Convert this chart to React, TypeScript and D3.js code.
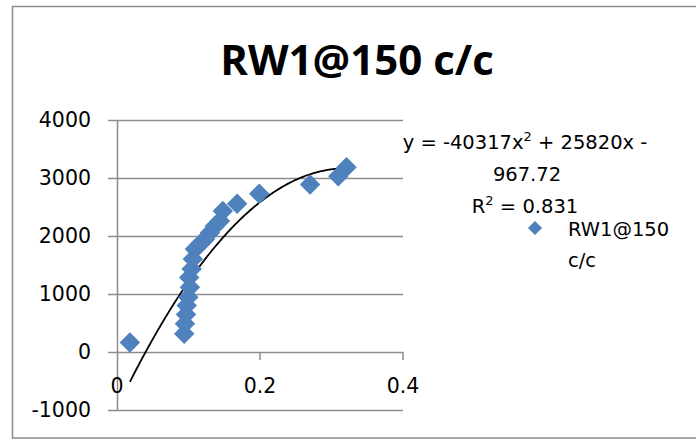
import React, { useRef, useEffect } from "react";
import * as d3 from "d3";

// Data
const xValues = [
  0.018, 0.094, 0.095, 0.0965, 0.0975, 0.0997, 0.101, 0.102, 0.1045, 0.106,
  0.109, 0.116, 0.123, 0.13, 0.137, 0.144, 0.148, 0.168, 0.199, 0.27, 0.3095,
  0.321,
];
const yValues = [
  165, 315, 487, 646, 800, 943, 1286, 1115, 1430, 1602, 1774, 1859, 1945, 2058,
  2173, 2259, 2430, 2556, 2727, 2888, 3031, 3185,
];
const xTicks = [0, 0.2, 0.4];
const yTicks = [-1000, 0, 1000, 2000, 3000, 4000];
// trendline coefficients as shown in the chart label
const trendCoef = [-40317, 25820, -967.72];
const title = "RW1@150 c/c";
const seriesName = "RW1@150";
const seriesName2 = "c/c";

const TITLE_FONT = "'Open Sans', 'Liberation Sans', sans-serif";
const FONT = "'DejaVu Sans', 'Open Sans', sans-serif";

const App: React.FC = () => {
  const chartRef = useRef<SVGSVGElement>(null);

  useEffect(() => {
    if (!chartRef.current) return;
    const svg = d3.select(chartRef.current);
    svg.selectAll("*").remove();

    const x = d3.scaleLinear().domain([0, 0.4]).range([117, 403]);
    const y = d3.scaleLinear().domain([-1000, 4000]).range([410, 120]);

    // chart border
    svg
      .append("rect")
      .attr("x", 12.5)
      .attr("y", 6.5)
      .attr("width", 700)
      .attr("height", 431.5)
      .attr("fill", "white")
      .attr("stroke", "#8c8c8c")
      .attr("stroke-width", 1.5);

    // title
    svg
      .append("text")
      .attr("x", 357)
      .attr("y", 75)
      .attr("text-anchor", "middle")
      .attr("font-family", TITLE_FONT)
      .attr("font-weight", "bold")
      .attr("font-size", 42)
      .text(title);

    // horizontal gridlines (extend past the axis as ticks)
    svg
      .append("g")
      .selectAll("line")
      .data(yTicks)
      .enter()
      .append("line")
      .attr("x1", 108)
      .attr("x2", x(0.4))
      .attr("y1", (d) => Math.round(y(d)) + 0.5)
      .attr("y2", (d) => Math.round(y(d)) + 0.5)
      .attr("stroke", "#8c8c8c")
      .attr("stroke-width", 1.5);

    // vertical axis line
    svg
      .append("line")
      .attr("x1", x(0) + 0.5)
      .attr("x2", x(0) + 0.5)
      .attr("y1", y(4000))
      .attr("y2", y(-1000))
      .attr("stroke", "#8c8c8c")
      .attr("stroke-width", 1.5);

    // x tick marks at y=0
    svg
      .append("g")
      .selectAll("line")
      .data(xTicks.filter((d) => d > 0))
      .enter()
      .append("line")
      .attr("x1", (d) => x(d))
      .attr("x2", (d) => x(d))
      .attr("y1", y(0))
      .attr("y2", y(0) + 8)
      .attr("stroke", "#8c8c8c")
      .attr("stroke-width", 1.5);

    // y tick labels
    svg
      .append("g")
      .selectAll("text")
      .data(yTicks)
      .enter()
      .append("text")
      .attr("x", 91)
      .attr("y", (d) => y(d) + 7)
      .attr("text-anchor", "end")
      .attr("font-family", FONT)
      .attr("font-size", 20.5)
      .text((d) => String(d));

    // x tick labels
    svg
      .append("g")
      .selectAll("text")
      .data(xTicks)
      .enter()
      .append("text")
      .attr("x", (d) => x(d))
      .attr("y", 393)
      .attr("text-anchor", "middle")
      .attr("font-family", FONT)
      .attr("font-size", 20.5)
      .text((d) => (d === 0 ? "0" : d3.format(".1f")(d)));

    // trendline
    const [a, b, c] = trendCoef;
    const xs = d3.range(d3.min(xValues)!, d3.max(xValues)! + 1e-9, 0.002);
    const line = d3
      .line<number>()
      .x((d) => x(d))
      .y((d) => y(a * d * d + b * d + c))
      .curve(d3.curveMonotoneX);
    svg
      .append("path")
      .attr("d", line(xs))
      .attr("fill", "none")
      .attr("stroke", "black")
      .attr("stroke-width", 1.8);

    // diamonds
    const diamond = d3.symbol().type(d3.symbolSquare).size(210);
    svg
      .append("g")
      .selectAll("path")
      .data(xValues.map((v, i) => [v, yValues[i]]))
      .enter()
      .append("path")
      .attr("d", diamond())
      .attr(
        "transform",
        (d) => `translate(${x(d[0])},${y(d[1])}) rotate(45)`
      )
      .attr("fill", "#4f81bd");

    // equation label
    const eq = svg
      .append("text")
      .attr("font-family", FONT)
      .attr("font-size", 19.5)
      .attr("text-anchor", "middle");
    const l1 = eq.append("tspan").attr("x", 525).attr("y", 149);
    l1.append("tspan").text("y = -40317x");
    l1.append("tspan").attr("font-size", 13).attr("dy", -8).text("2");
    l1.append("tspan").attr("dy", 8).text(" + 25820x -");
    eq.append("tspan").attr("x", 527).attr("y", 181).text("967.72");
    const l3 = eq.append("tspan").attr("x", 525).attr("y", 213);
    l3.append("tspan").text("R");
    l3.append("tspan").attr("font-size", 13).attr("dy", -8).text("2");
    l3.append("tspan").attr("dy", 8).text(" = 0.831");

    // legend
    svg
      .append("path")
      .attr("d", d3.symbol().type(d3.symbolSquare).size(100)())
      .attr("transform", "translate(535,228) rotate(45)")
      .attr("fill", "#4f81bd");
    svg
      .append("text")
      .attr("x", 568)
      .attr("y", 236)
      .attr("font-family", FONT)
      .attr("font-size", 19.5)
      .text(seriesName);
    svg
      .append("text")
      .attr("x", 568)
      .attr("y", 267)
      .attr("font-family", FONT)
      .attr("font-size", 19.5)
      .text(seriesName2);
  }, []);

  return (
    <svg
      ref={chartRef}
      width="696"
      height="439"
      style={{ position: "absolute", left: 0, top: 0, background: "white" }}
    ></svg>
  );
};

export default App;
